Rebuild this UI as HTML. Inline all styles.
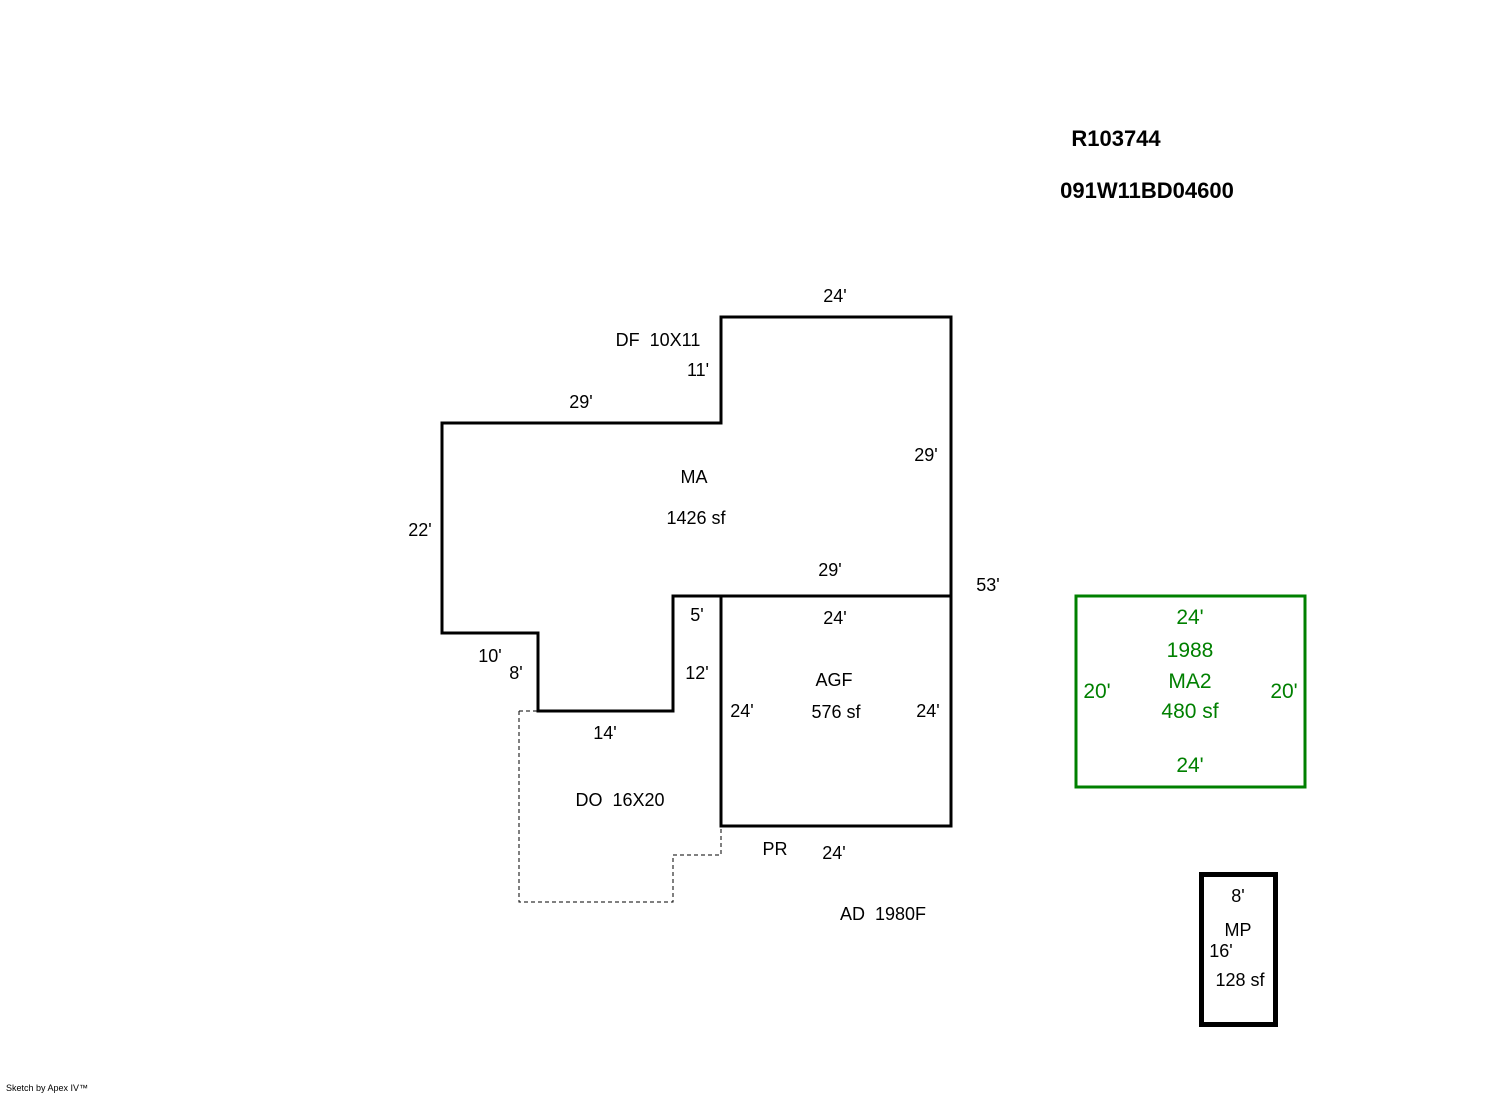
<!DOCTYPE html>
<html><head><meta charset="utf-8"><style>
html,body{margin:0;padding:0;background:#fff;}
svg{display:block;}
text{font-family:"Liberation Sans",Arial,sans-serif;font-size:18px;text-anchor:middle;white-space:pre;}
</style></head><body>
<svg width="1492" height="1094" viewBox="0 0 1492 1094" xmlns="http://www.w3.org/2000/svg" xml:space="preserve">
<g fill="none" stroke="#000" stroke-width="3">
<polygon points="442,423 721,423 721,317 951,317 951,596 673,596 673,711 538,711 538,633 442,633"/>
<rect x="721" y="596" width="230" height="230"/>
</g>
<polyline points="519,711 519,902 673,902 673,855 721,855 721,826" fill="none" stroke="#000" stroke-width="1" stroke-dasharray="4,3"/>
<polyline points="519,711 538,711" fill="none" stroke="#000" stroke-width="1" stroke-dasharray="4,3"/>
<rect x="1076" y="596" width="229" height="191" fill="none" stroke="#008000" stroke-width="3"/>
<rect x="1201.5" y="874.5" width="74" height="150" fill="none" stroke="#000" stroke-width="5"/>
<text x="1116" y="146" style="font-size:22px;font-weight:bold">R103744</text>
<text x="1147" y="198" style="font-size:22px;font-weight:bold">091W11BD04600</text>
<g fill="#000">
<text x="835" y="302">24'</text>
<text x="658" y="346">DF  10X11</text>
<text x="698" y="376">11'</text>
<text x="581" y="408">29'</text>
<text x="694" y="483">MA</text>
<text x="696" y="524">1426 sf</text>
<text x="926" y="461">29'</text>
<text x="420" y="536">22'</text>
<text x="830" y="576">29'</text>
<text x="988" y="591">53'</text>
<text x="697" y="621">5'</text>
<text x="835" y="624">24'</text>
<text x="490" y="662">10'</text>
<text x="516" y="679">8'</text>
<text x="697" y="679">12'</text>
<text x="834" y="686">AGF</text>
<text x="742" y="717">24'</text>
<text x="836" y="718">576 sf</text>
<text x="928" y="717">24'</text>
<text x="605" y="739">14'</text>
<text x="620" y="806">DO  16X20</text>
<text x="775" y="855">PR</text>
<text x="834" y="859">24'</text>
<text x="883" y="920">AD  1980F</text>
<text x="1238" y="902">8'</text>
<text x="1238" y="936">MP</text>
<text x="1221" y="957">16'</text>
<text x="1240" y="986">128 sf</text>
</g>
<g fill="#008000">
<text x="1190" y="624" style="font-size:21px">24'</text>
<text x="1190" y="657" style="font-size:21px">1988</text>
<text x="1190" y="688" style="font-size:21px">MA2</text>
<text x="1097" y="698" style="font-size:21px">20'</text>
<text x="1284" y="698" style="font-size:21px">20'</text>
<text x="1190" y="718" style="font-size:21px">480 sf</text>
<text x="1190" y="772" style="font-size:21px">24'</text>
</g>
<text x="6" y="1091" style="font-size:9px;text-anchor:start">Sketch by Apex IV™</text>
</svg>
</body></html>
